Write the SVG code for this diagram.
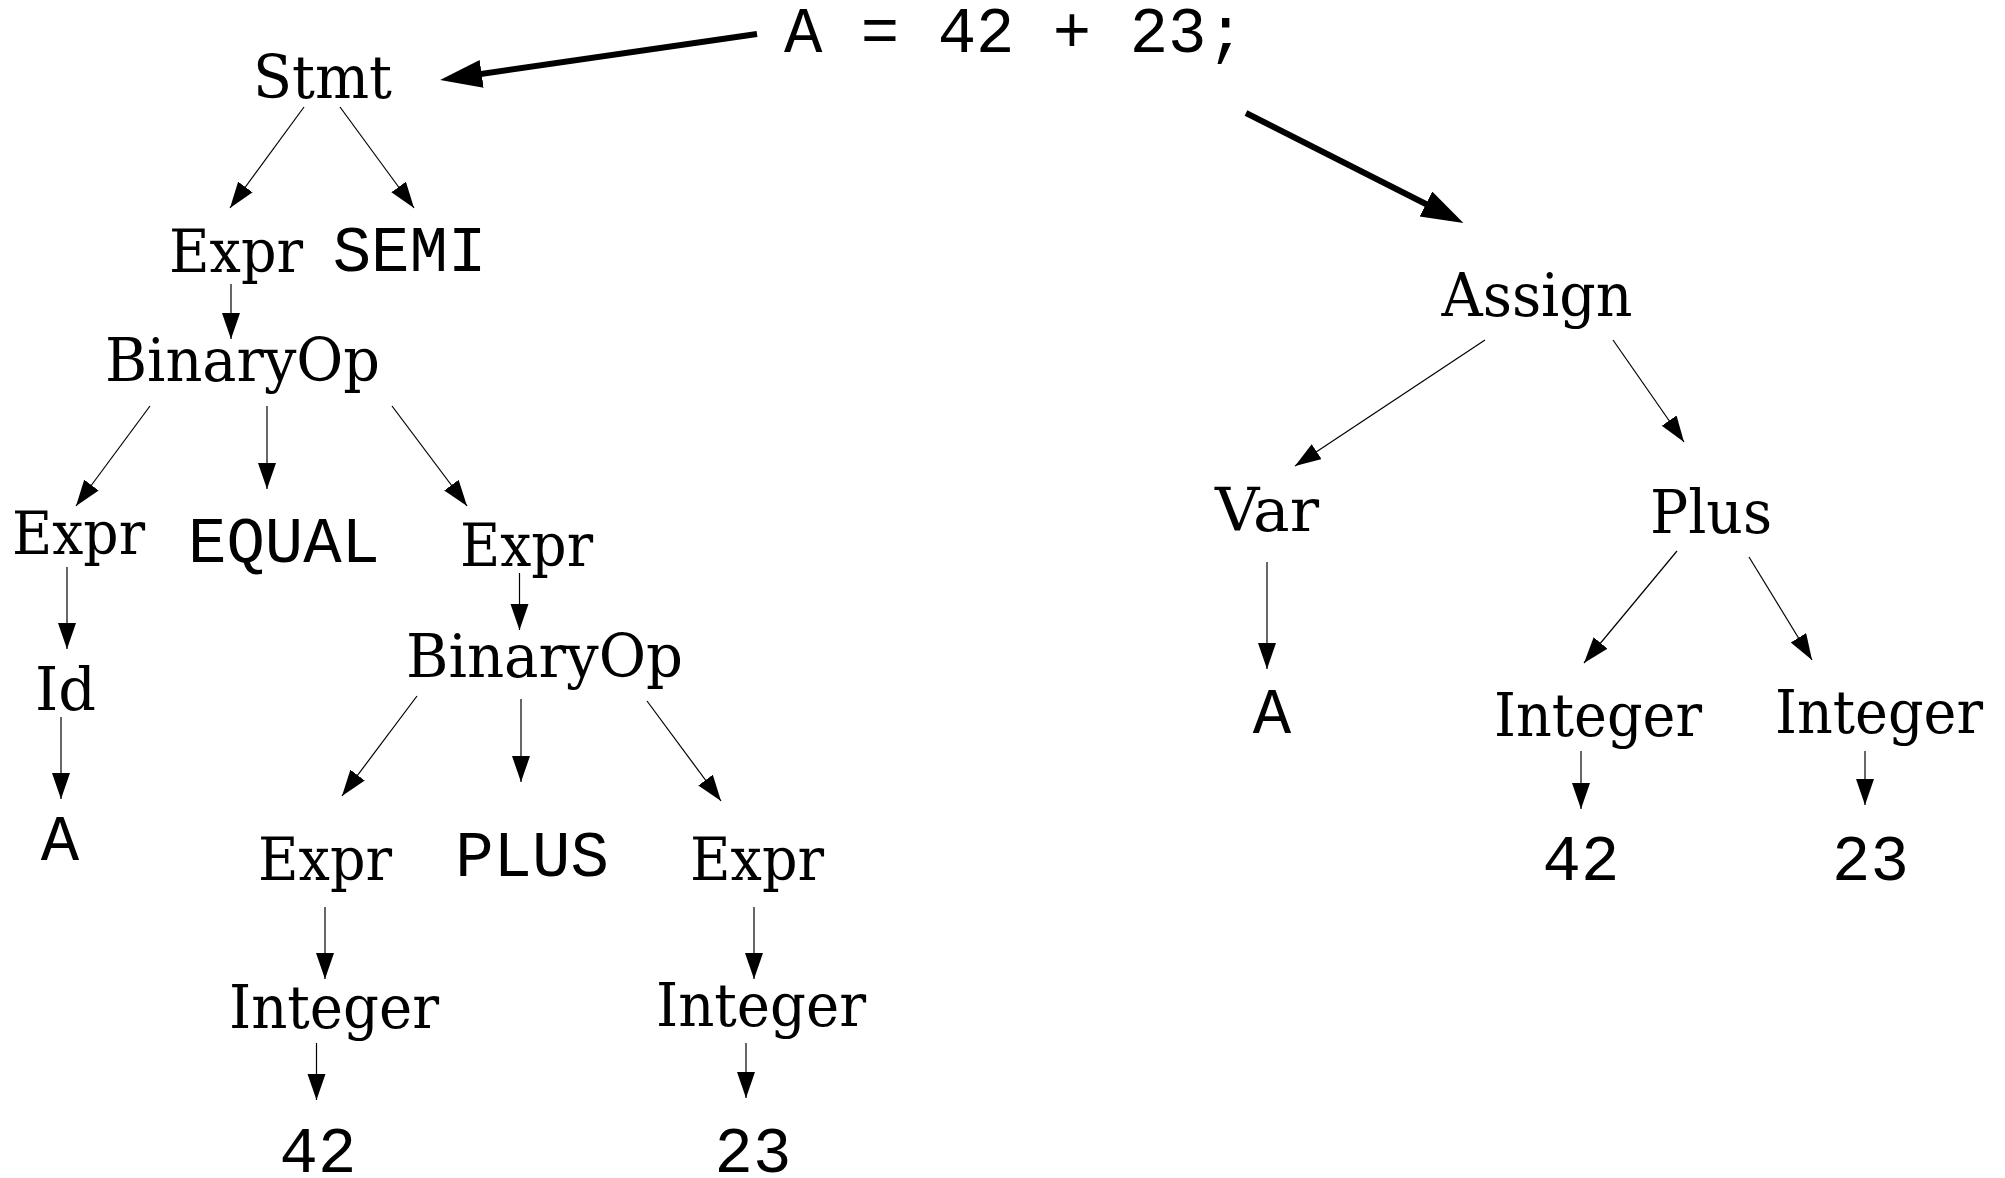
<svg xmlns="http://www.w3.org/2000/svg" width="2005" height="1178" viewBox="0 0 2005 1178">
<style>
.s{font-family:"DejaVu Serif Condensed","DejaVu Serif","Liberation Serif",serif;font-stretch:condensed;font-size:59px;fill:#000;text-anchor:middle}
.m{font-family:"Liberation Mono","Courier New",monospace;font-size:64px;fill:#000;text-anchor:middle}
.e{fill:none;stroke:#000;stroke-width:1.2}
.t{fill:none;stroke:#000;stroke-width:6}
</style>
<defs>
<marker id="ah" markerUnits="userSpaceOnUse" markerWidth="28" markerHeight="20" refX="26" refY="9" orient="auto"><path d="M0,0 L26,9 L0,18 z" fill="#000"/></marker>
<marker id="ahb" markerUnits="userSpaceOnUse" markerWidth="44" markerHeight="30" refX="32" refY="14" orient="auto"><path d="M0,0 L42,14 L0,28 z" fill="#000"/></marker>
</defs>
<rect width="2005" height="1178" fill="#fff"/>
<g id="connectors">
<path class="t" d="M757,34 L450,78.5" marker-end="url(#ahb)"/>
<path class="t" d="M1246,113 L1454.5,218.5" marker-end="url(#ahb)"/>
<path class="e" d="M304,107 L230,208" marker-end="url(#ah)"/>
<path class="e" d="M340,107 L414,208" marker-end="url(#ah)"/>
<path class="e" d="M231,284 L231,339" marker-end="url(#ah)"/>
<path class="e" d="M150,406 L76,506" marker-end="url(#ah)"/>
<path class="e" d="M267,406 L267,489" marker-end="url(#ah)"/>
<path class="e" d="M392,406 L467,506" marker-end="url(#ah)"/>
<path class="e" d="M67,567 L67,649" marker-end="url(#ah)"/>
<path class="e" d="M61,717 L61,799" marker-end="url(#ah)"/>
<path class="e" d="M519.5,573 L519.5,630" marker-end="url(#ah)"/>
<path class="e" d="M417,696 L342,796" marker-end="url(#ah)"/>
<path class="e" d="M521,699 L521,782" marker-end="url(#ah)"/>
<path class="e" d="M647,701 L721,801" marker-end="url(#ah)"/>
<path class="e" d="M325,907 L325,979" marker-end="url(#ah)"/>
<path class="e" d="M754,907 L754,979" marker-end="url(#ah)"/>
<path class="e" d="M316.5,1043 L316.5,1100" marker-end="url(#ah)"/>
<path class="e" d="M746,1043 L746,1098" marker-end="url(#ah)"/>
<path class="e" d="M1485,340 L1295,466" marker-end="url(#ah)"/>
<path class="e" d="M1613,340 L1684,442" marker-end="url(#ah)"/>
<path class="e" d="M1267,562 L1267,669" marker-end="url(#ah)"/>
<path class="e" d="M1677,551 L1584,663" marker-end="url(#ah)"/>
<path class="e" d="M1749,557 L1812,660" marker-end="url(#ah)"/>
<path class="e" d="M1581,751 L1581,809" marker-end="url(#ah)"/>
<path class="e" d="M1865,751 L1865,805" marker-end="url(#ah)"/>
</g>
<g id="source"><text class="m" x="784" y="52" style="text-anchor:start">A = 42 + 23;</text></g>
<g id="stmt"><text class="s" x="322.5" y="98" textLength="139" lengthAdjust="spacingAndGlyphs">Stmt</text></g>
<g id="expr1"><text class="s" x="236" y="272" textLength="134" lengthAdjust="spacingAndGlyphs">Expr</text></g>
<g id="semi"><text class="m" x="409.5" y="271">SEMI</text></g>
<g id="binop1"><text class="s" x="242.5" y="381" textLength="275" lengthAdjust="spacingAndGlyphs">BinaryOp</text></g>
<g id="expr2"><text class="s" x="78.5" y="554" textLength="133" lengthAdjust="spacingAndGlyphs">Expr</text></g>
<g id="equal"><text class="m" x="284" y="562">EQUAL</text></g>
<g id="expr3"><text class="s" x="526.5" y="566" textLength="133" lengthAdjust="spacingAndGlyphs">Expr</text></g>
<g id="id"><text class="s" x="65.5" y="710" textLength="61" lengthAdjust="spacingAndGlyphs">Id</text></g>
<g id="a1"><text class="m" x="60" y="860">A</text></g>
<g id="binop2"><text class="s" x="544.5" y="677" textLength="277" lengthAdjust="spacingAndGlyphs">BinaryOp</text></g>
<g id="expr4"><text class="s" x="325" y="880" textLength="134" lengthAdjust="spacingAndGlyphs">Expr</text></g>
<g id="plus1"><text class="m" x="532" y="876">PLUS</text></g>
<g id="expr5"><text class="s" x="757" y="880" textLength="134" lengthAdjust="spacingAndGlyphs">Expr</text></g>
<g id="int1"><text class="s" x="334" y="1028" textLength="210" lengthAdjust="spacingAndGlyphs">Integer</text></g>
<g id="int2"><text class="s" x="761" y="1026" textLength="210" lengthAdjust="spacingAndGlyphs">Integer</text></g>
<g id="n42a"><text class="m" x="318" y="1172">42</text></g>
<g id="n23a"><text class="m" x="753" y="1172">23</text></g>
<g id="assign"><text class="s" x="1537" y="316" textLength="191" lengthAdjust="spacingAndGlyphs">Assign</text></g>
<g id="var"><text class="s" x="1267" y="531" textLength="104" lengthAdjust="spacingAndGlyphs">Var</text></g>
<g id="plus2"><text class="s" x="1711" y="533" textLength="122" lengthAdjust="spacingAndGlyphs">Plus</text></g>
<g id="a2"><text class="m" x="1272" y="733">A</text></g>
<g id="int3"><text class="s" x="1598" y="736" textLength="208" lengthAdjust="spacingAndGlyphs">Integer</text></g>
<g id="int4"><text class="s" x="1879" y="733" textLength="208" lengthAdjust="spacingAndGlyphs">Integer</text></g>
<g id="n42b"><text class="m" x="1581" y="880">42</text></g>
<g id="n23b"><text class="m" x="1870.5" y="880">23</text></g>
</svg>
